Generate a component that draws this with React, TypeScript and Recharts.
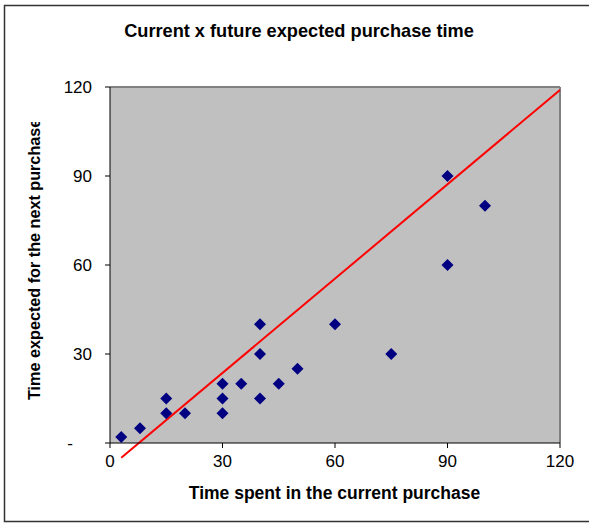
import React from 'react';
import {
	ScatterChart,
	Scatter,
	XAxis,
	YAxis,
	CartesianGrid,
	ReferenceLine,
	Customized,
} from 'recharts';

// time spent in the current purchase vs. time expected for the next one
const currentTime = [3, 8, 15, 15, 20, 30, 30, 30, 35, 40, 40, 40, 45, 50, 60, 75, 90, 90, 100];
const nextTime = [2, 5, 15, 10, 10, 20, 15, 10, 20, 40, 30, 15, 20, 25, 40, 30, 90, 60, 80];

const axisTicks = [0, 30, 60, 90, 120];

// red guide line, start and end points
const guideX = [3, 120];
const guideY = [-5, 119];

const FONT = '"Liberation Sans", Arial, sans-serif';

const points = currentTime.map((x, i) => ({ x, y: nextTime[i] }));

const Diamond = (props: any) => {
	const { cx, cy } = props;
	const r = 6;
	return (
		<path
			d={`M${cx},${cy - r}L${cx + r},${cy}L${cx},${cy + r}L${cx - r},${cy}Z`}
			fill="#000080"
		/>
	);
};

// zero is shown as a dash, like the accounting format
const YTick = (props: any) => {
	const { x, y, payload } = props;
	const zero = payload.value === 0;
	return (
		<text
			x={zero ? x - 19 : x}
			y={y}
			dy="0.35em"
			textAnchor="end"
			fontFamily={FONT}
			fontSize={17}
			fill="#000"
		>
			{zero ? '-' : payload.value}
		</text>
	);
};

const Decorations = () => (
	<g fontFamily={FONT} fontWeight="bold" fill="#000">
		<rect x={4.5} y={5.5} width={600} height={516} fill="none" stroke="#333" strokeWidth={1.5} />
		<text x={299} y={37} textAnchor="middle" fontSize={18.2}>
			Current x future expected purchase time
		</text>
		<text x={334.5} y={499} textAnchor="middle" fontSize={17.5}>
			Time spent in the current purchase
		</text>
		<defs>
			<clipPath id="ylabel-clip">
				<rect x={0} y={122} width={80} height={300} />
			</clipPath>
		</defs>
		<g clipPath="url(#ylabel-clip)">
			<text x={40} y={400} transform="rotate(-90 40 400)" textAnchor="start" fontSize={16.2}>
				Time expected for the next purchase
			</text>
		</g>
	</g>
);

export default function App() {
	return (
		<div style={{ position: 'absolute', left: 0, top: 0, width: 589, height: 524, background: '#fff' }}>
			<ScatterChart
				width={589}
				height={524}
				margin={{ top: 87, right: 29, bottom: 41, left: 50 }}
			>
				<CartesianGrid horizontal={false} vertical={false} fill="#c0c0c0" fillOpacity={1} />
				<ReferenceLine y={120} stroke="#808080" strokeWidth={2} />
				<ReferenceLine x={120} stroke="#808080" strokeWidth={2} />
				<XAxis
					type="number"
					dataKey="x"
					domain={[0, 120]}
					ticks={axisTicks}
					height={40}
					stroke="#000"
					tickSize={5}
					tickMargin={7}
					tick={{ fontFamily: FONT, fontSize: 17, fill: '#000' }}
				/>
				<YAxis
					type="number"
					dataKey="y"
					domain={[0, 120]}
					ticks={axisTicks}
					width={60}
					stroke="#000"
					tickSize={5}
					tickMargin={13}
					tick={<YTick />}
				/>
				<ReferenceLine
					segment={[
						{ x: guideX[0], y: guideY[0] },
						{ x: guideX[1], y: guideY[1] },
					]}
					stroke="#ff0000"
					strokeWidth={2}
					ifOverflow="visible"
				/>
				<Scatter data={points} shape={<Diamond />} isAnimationActive={false} />
				<Customized component={<Decorations />} />
			</ScatterChart>
		</div>
	);
}
